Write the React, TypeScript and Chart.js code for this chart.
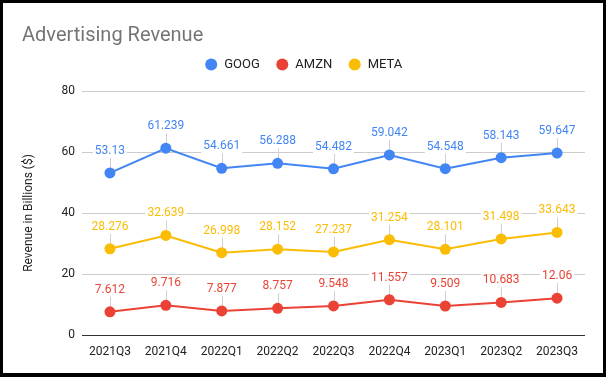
import React, { useEffect, useRef } from "react";
import { Chart, registerables } from "chart.js";

Chart.register(...registerables);

const categories = ["2021Q3", "2021Q4", "2022Q1", "2022Q2", "2022Q3", "2022Q4", "2023Q1", "2023Q2", "2023Q3"];
const googValues = [53.13, 61.239, 54.661, 56.288, 54.482, 59.042, 54.548, 58.143, 59.647];
const amznValues = [7.612, 9.716, 7.877, 8.757, 9.548, 11.557, 9.509, 10.683, 12.06];
const metaValues = [28.276, 32.639, 26.998, 28.152, 27.237, 31.254, 28.101, 31.498, 33.643];
const yTicks = [0, 20, 40, 60, 80];

const COLORS = { GOOG: "#4285F4", AMZN: "#EA4335", META: "#FBBC04" };
const FONT = "Roboto";
const LABEL_OFFSET = 22;

const valueLabels = {
  id: "valueLabels",
  beforeDatasetsDraw(chart: any) {
    const ctx = chart.ctx;
    ctx.save();
    ctx.strokeStyle = "#d0d0d0";
    ctx.lineWidth = 1;
    chart.data.datasets.forEach((ds: any, i: number) => {
      const meta = chart.getDatasetMeta(i);
      meta.data.forEach((pt: any) => {
        const x = Math.round(pt.x) + 0.5;
        ctx.beginPath();
        ctx.moveTo(x, pt.y);
        ctx.lineTo(x, pt.y - LABEL_OFFSET + 6);
        ctx.stroke();
      });
    });
    ctx.restore();
  },
  afterDatasetsDraw(chart: any) {
    const ctx = chart.ctx;
    ctx.save();
    ctx.font = `12px ${FONT}`;
    ctx.textAlign = "center";
    ctx.textBaseline = "middle";
    const items: any[] = [];
    chart.data.datasets.forEach((ds: any, i: number) => {
      const meta = chart.getDatasetMeta(i);
      meta.data.forEach((pt: any, j: number) => {
        const text = String(ds.data[j]);
        items.push({ x: pt.x, y: pt.y - LABEL_OFFSET, text, color: ds.borderColor });
      });
    });
    items.forEach((it) => {
      const w = ctx.measureText(it.text).width;
      ctx.fillStyle = "#ffffff";
      ctx.fillRect(it.x - w / 2 - 2, it.y - 6, w + 4, 13);
    });
    items.forEach((it) => {
      ctx.fillStyle = it.color;
      ctx.fillText(it.text, it.x, it.y);
    });
    ctx.restore();
  },
};

export default function App() {
  const ref = useRef<HTMLCanvasElement>(null);
  useEffect(() => {
    if (!ref.current) return;
    const chart = new Chart(ref.current, {
      type: "line",
      data: {
        labels: categories,
        datasets: [
          { label: "GOOG", data: googValues, borderColor: COLORS.GOOG, backgroundColor: COLORS.GOOG },
          { label: "AMZN", data: amznValues, borderColor: COLORS.AMZN, backgroundColor: COLORS.AMZN },
          { label: "META", data: metaValues, borderColor: COLORS.META, backgroundColor: COLORS.META },
        ].map((d) => ({
          ...d,
          borderWidth: 2,
          pointRadius: 5.5,
          pointBorderWidth: 0,
          pointBackgroundColor: d.borderColor,
          tension: 0,
        })),
      },
      options: {
        responsive: false,
        animation: false,
        layout: { padding: { left: 19, right: 18, top: 0, bottom: 0 } },
        plugins: {
          title: {
            display: true,
            text: "Advertising Revenue",
            align: "start",
            color: "#757575",
            font: { family: FONT, size: 20, weight: "normal", lineHeight: 1.2 },
            padding: { top: 21, bottom: -6 },
          },
          subtitle: {
            display: true,
            text: "",
            weight: 500,
            font: { size: 10, lineHeight: 1 },
            padding: { top: 0, bottom: 0 },
          },
          legend: {
            display: true,
            position: "top",
            labels: {
              usePointStyle: true,
              pointStyle: "circle",
              boxWidth: 13,
              boxHeight: 8.5,
              padding: 16,
              color: "#222222",
              font: { family: FONT, size: 13 },
              generateLabels: (chart: any) =>
                Chart.defaults.plugins.legend.labels.generateLabels(chart).map((l: any) => ({ ...l, lineWidth: 0 })),
            },
          },
          tooltip: { enabled: false },
        },
        scales: {
          x: {
            offset: true,
            grid: { display: false, drawTicks: false, offset: true },
            border: { display: false },
            ticks: { color: "#222222", font: { family: FONT, size: 12 }, padding: 10, maxRotation: 0, autoSkip: false },
            afterFit: (scale: any) => {
              scale.height = 38;
            },
          },
          y: {
            min: 0,
            max: 80,
            afterBuildTicks: (scale: any) => {
              scale.ticks = yTicks.map((v) => ({ value: v }));
            },
            grid: {
              drawTicks: false,
              color: (c: any) => (c.tick && c.tick.value === 0 ? "#333333" : "#cccccc"),
              lineWidth: 1,
            },
            border: { display: false },
            ticks: { color: "#222222", font: { family: FONT, size: 12 }, padding: 7 },
            title: {
              display: true,
              text: "Revenue in Billions ($)",
              color: "#222222",
              font: { family: FONT, size: 12 },
              padding: { top: 0, bottom: 0 },
            },
            afterFit: (scale: any) => {
              scale.width = 60;
            },
          },
        },
      },
      plugins: [valueLabels],
    } as any);
    return () => chart.destroy();
  }, []);
  return (
    <div style={{ position: "fixed", left: 0, top: 0, width: 606, height: 377, background: "#000" }}>
      <div style={{ position: "absolute", left: 3, top: 3, width: 600, height: 370, background: "#fff" }}>
        <canvas ref={ref} width={600} height={370} style={{ display: "block" }} />
      </div>
    </div>
  );
}
